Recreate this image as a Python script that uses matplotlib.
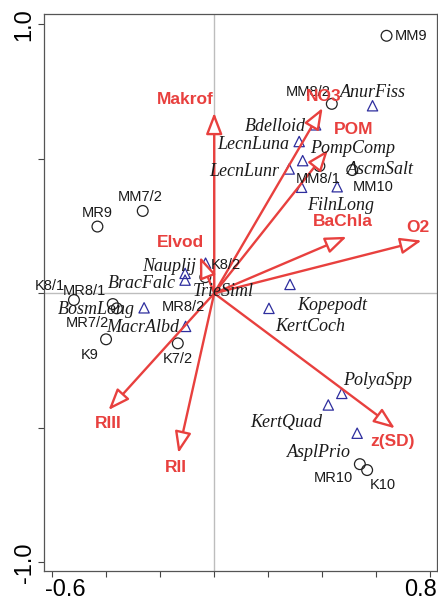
import matplotlib
matplotlib.use("Agg")
import matplotlib.pyplot as plt
import matplotlib.transforms as mtransforms

# environmental variables (arrow tips)
env_names = ["Makrof", "NO3", "POM", "BaChla", "O2", "Elvod", "RIII", "RII", "z(SD)"]
env_x = [0.000, 0.402, 0.422, 0.491, 0.769, -0.053, -0.392, -0.133, 0.670]
env_y = [0.671, 0.689, 0.533, 0.210, 0.196, 0.136, -0.434, -0.594, -0.502]

# samples (open circles)
sample_names = ["MM9", "MM8/2", "MM8/1", "MM10", "MM7/2", "MR9", "K8/2", "K8/1",
                "MR8/1", "MR7/2", "K9", "K7/2", "MR10", "K10"]
sample_x = [0.639, 0.436, 0.390, 0.512, -0.265, -0.433, -0.033, -0.520,
            -0.376, -0.361, -0.401, -0.135, 0.540, 0.567]
sample_y = [0.957, 0.704, 0.473, 0.458, 0.306, 0.248, 0.060, -0.025,
            -0.040, -0.056, -0.171, -0.186, -0.635, -0.657]

# species (triangles)
species_names = ["AnurFiss", "Bdelloid", "LecnLuna", "PompComp", "LecnLunr", "AscmSalt",
                 "FilnLong", "Nauplij", "BracFalc", "TrieSiml", "Kopepodt", "KertCoch",
                 "BosmLong", "MacrAlbd", "PolyaSpp", "KertQuad", "AsplPrio"]
species_x = [0.587, 0.376, 0.315, 0.328, 0.278, 0.456, 0.324, -0.032, -0.108, -0.108,
             0.281, 0.203, -0.260, -0.106, 0.473, 0.423, 0.530]
species_y = [0.697, 0.626, 0.564, 0.493, 0.462, 0.396, 0.394, 0.112, 0.049, 0.074,
             0.033, -0.056, -0.054, -0.123, -0.372, -0.415, -0.520]

# label offsets in pixels (dx, dy)
env_off = [(-29, 13), (1, 11), (26, 20), (-4, 15), (-4, 13), (-19, 14), (0, -13), (-2, -14), (-2, -13)]
sample_off = [(25, 0), (-24, 12), (-1, -13), (21, -17), (-3, 14), (0, 14), (21, 12), (-24, 14),
              (-28, 13), (-29, -15), (-16, -16), (0, -16), (-26, -14), (16, -15)]
species_off = [(0, 13), (-40, -2), (-46, -3), (50, 12), (-45, -3), (43, 17), (39, -18),
               (-36, -3), (-43, -3), (38, -18), (42, -21), (41, -18), (-48, -2), (-43, -1),
               (36, 13), (-42, -18), (-38, -19)]
extra_label = "MR8/2"
extra_xy = (-0.114, -0.051)

red = "#e8403e"
navy = "#2e2e9e"

fig = plt.figure(figsize=(4.38, 6.03), dpi=100)
ax = fig.add_axes([0.1005, 0.0531, 0.8972, 0.9237])
ax.set_xlim(-0.631, 0.826)
ax.set_ylim(-1.032, 1.038)

ax.axhline(0, color="#bdbdbd", lw=1, zorder=1)
ax.axvline(0, color="#bdbdbd", lw=1, zorder=1)

ax.scatter(sample_x, sample_y, s=60, facecolors="none", edgecolors="#222222", linewidths=0.9, zorder=3)
ax.scatter(species_x, species_y, s=55, marker="^", facecolors="none", edgecolors=navy, linewidths=0.9, zorder=3)

for name, x, y, (dx, dy) in zip(env_names, env_x, env_y, env_off):
    ax.annotate("", xy=(x, y), xytext=(0, 0),
                arrowprops=dict(arrowstyle="-|>,head_length=0.65,head_width=0.25",
                                mutation_scale=20, fc="white", ec=red, lw=1.7,
                                shrinkA=0, shrinkB=0), zorder=4)
    ax.annotate(name, (x, y), xytext=(dx, dy), textcoords="offset pixels",
                ha="center", va="center", color=red, fontsize=12.5, fontweight="bold",
                family="Liberation Sans", zorder=6)

for name, x, y, (dx, dy) in zip(sample_names, sample_x, sample_y, sample_off):
    ax.annotate(name, (x, y), xytext=(dx, dy), textcoords="offset pixels",
                ha="center", va="center", color="#1a1a1a", fontsize=10.5,
                family="Liberation Sans", zorder=5, annotation_clip=False)

for name, x, y, (dx, dy) in zip(species_names, species_x, species_y, species_off):
    ax.annotate(name, (x, y), xytext=(dx, dy), textcoords="offset pixels",
                ha="center", va="center", color="#1a1a1a", fontsize=13, style="italic",
                family="Liberation Serif", zorder=5)

ax.text(extra_xy[0], extra_xy[1], extra_label, ha="center", va="center", color="#1a1a1a",
        fontsize=10.5, family="Liberation Sans", zorder=5)

ax.set_xticks([-0.6, -0.4, -0.2, 0.0, 0.2, 0.4, 0.6, 0.8])
ax.set_xticklabels(["-0.6", "", "", "", "", "", "", "0.8"])
ax.set_yticks([-1.0, -0.5, 0.0, 0.5, 1.0])
ax.set_yticklabels(["-1.0", "", "", "", "1.0"], rotation=90, va="center")
ax.tick_params(direction="out", length=4, width=0.8, color="#444444", labelsize=17, pad=2)
for lab in ax.get_xticklabels() + ax.get_yticklabels():
    lab.set_family("Liberation Sans")

# end labels sit inward of their ticks, as in the original
xl = ax.get_xticklabels()
xl[0].set_ha("left")
xl[0].set_transform(xl[0].get_transform() + mtransforms.ScaledTranslation(-7 / 100, 0, fig.dpi_scale_trans))
xl[-1].set_ha("right")
xl[-1].set_transform(xl[-1].get_transform() + mtransforms.ScaledTranslation(7 / 100, 0, fig.dpi_scale_trans))

for sp in ax.spines.values():
    sp.set_color("#555555")
    sp.set_linewidth(0.9)

fig.savefig("out.png", dpi=100)
